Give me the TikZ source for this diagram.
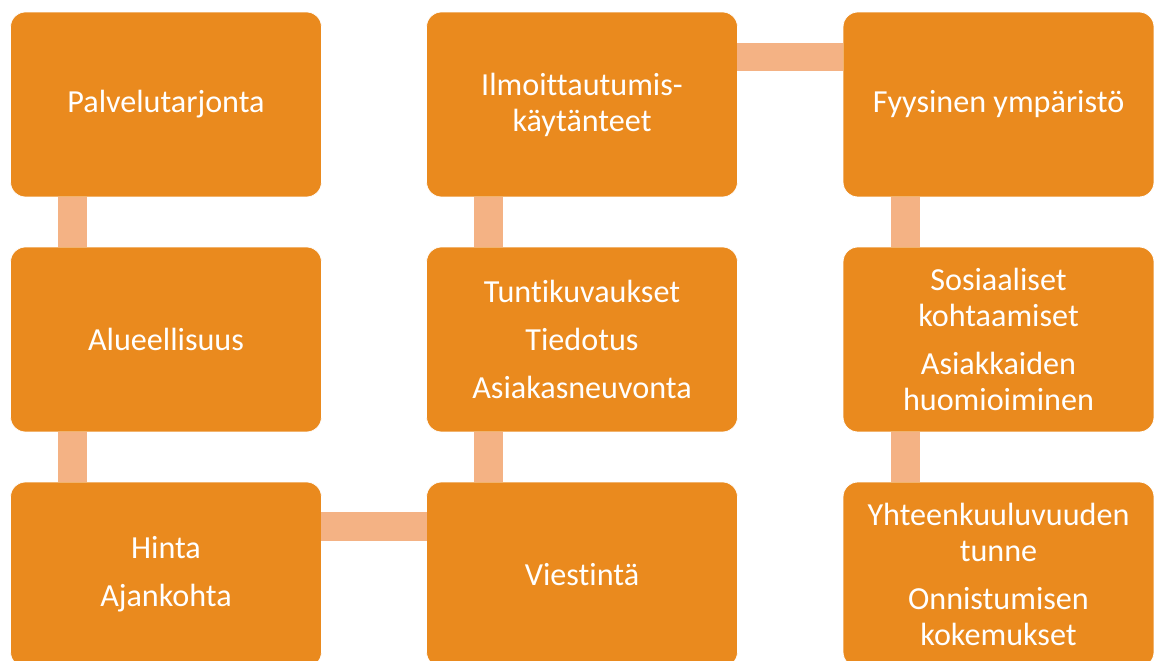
\documentclass[tikz,border=0pt]{standalone}
\usepackage{fontspec}
\setmainfont{Carlito}[Ligatures={NoCommon}]
\usetikzlibrary{positioning}
\definecolor{boxorange}{RGB}{234,138,30}
\definecolor{linkorange}{RGB}{244,178,132}
\tikzset{
  stage/.style={rectangle,rounded corners=0.3cm,fill=boxorange,draw=white,thin,
    minimum width=6.22cm,minimum height=3.7cm,outer sep=0pt,text=white,
    align=center,font=\fontsize{18.3}{20.5}\selectfont},
  link/.style={linkorange,line width=0.58cm}
}

\begin{document}
\begin{tikzpicture}[x=0.02cm,y=-0.02cm]
\useasboundingbox (0,0) rectangle (1155,661);

\node[stage] (palvelu) at (166,104.5) {Palvelutarjonta};
\node[stage] (alue) at (166,339.5) {Alueellisuus};
\node[stage] (hinta) at (166,574.5) {Hinta\\[7pt]Ajankohta};
\node[stage] (viesti) at (582,574.5) {Viestint\"a};
\node[stage] (tiedotus) at (582,339.5) {Tuntikuvaukset\\[7pt]Tiedotus\\[7pt]Asiakasneuvonta};
\node[stage] (ilmo) at (582,104.5) {Ilmoittautumis-\\k\"ayt\"anteet};
\node[stage] (fyys) at (998.5,104.5) {Fyysinen ymp\"arist\"o};
\node[stage] (sosiaal) at (998.5,339.5) {Sosiaaliset\\kohtaamiset\\[7pt]Asiakkaiden\\huomioiminen};
\node[stage] (yhteen) at (998.5,574.5) {Yhteenkuuluvuuden\\tunne\\[7pt]Onnistumisen\\kokemukset};

\draw[link] ([xshift=1.24cm]palvelu.south west) -- ([xshift=1.24cm]alue.north west);
\draw[link] ([xshift=1.24cm]alue.south west) -- ([xshift=1.24cm]hinta.north west);
\draw[link] ([yshift=-0.89cm]hinta.north east) -- ([yshift=-0.89cm]viesti.north west);
\draw[link] ([xshift=1.24cm]viesti.north west) -- ([xshift=1.24cm]tiedotus.south west);
\draw[link] ([xshift=1.24cm]tiedotus.north west) -- ([xshift=1.24cm]ilmo.south west);
\draw[link] ([yshift=-0.9cm]ilmo.north east) -- ([yshift=-0.9cm]fyys.north west);
\draw[link] ([xshift=1.24cm]fyys.south west) -- ([xshift=1.24cm]sosiaal.north west);
\draw[link] ([xshift=1.24cm]sosiaal.south west) -- ([xshift=1.24cm]yhteen.north west);

\end{tikzpicture}
\end{document}
